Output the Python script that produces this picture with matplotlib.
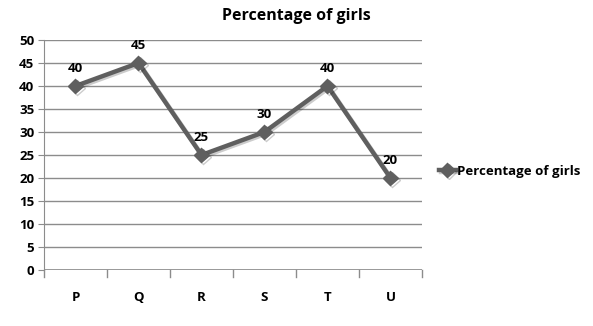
import matplotlib.pyplot as plt
import matplotlib.patheffects as pe

categorias = ["P", "Q", "R", "S", "T", "U"]
percentual = [40, 45, 25, 30, 40, 20]
ticks_y = list(range(0, 55, 5))

COR_LINHA = "#5f5f5f"
COR_GRADE = "#8c8c8c"
FONTE = "Open Sans"

fig = plt.figure(figsize=(5.93, 3.26), dpi=100, facecolor="white")
ax = fig.add_axes([0.0742, 0.1718, 0.6374, 0.7055])

x = list(range(len(categorias)))
sombra = [pe.SimpleLineShadow(offset=(1.2, -1.2), alpha=0.2), pe.Normal()]
ax.plot(x, percentual, color=COR_LINHA, lw=3.2, marker="D", ms=7.5,
        markerfacecolor=COR_LINHA, markeredgecolor=COR_LINHA,
        label="Percentage of girls", path_effects=sombra, zorder=3)

for xi, v in zip(x, percentual):
    ax.annotate(str(v), (xi, v), xytext=(0, 8), textcoords="offset points",
                ha="center", va="bottom", fontsize=9.5, fontweight="bold",
                family=FONTE)

ax.set_xlim(-0.5, len(categorias) - 0.5)
ax.set_ylim(0, 50)
ax.set_yticks(ticks_y)
ax.set_yticklabels([str(t) for t in ticks_y], fontsize=9.5, fontweight="bold",
                   family=FONTE)
ax.set_xticks(x)
ax.set_xticklabels(categorias, fontsize=9.5, fontweight="bold", family=FONTE)
ax.tick_params(axis="x", length=0, pad=15)
ax.tick_params(axis="y", length=4, color=COR_GRADE, pad=3)

# marcas entre as categorias no eixo x
for b in [i - 0.5 for i in range(len(categorias) + 1)]:
    ax.plot([b, b], [0, -1.6], color=COR_GRADE, lw=1, clip_on=False)

ax.grid(axis="y", color=COR_GRADE, lw=1)
ax.set_axisbelow(True)
for lado in ["top", "right", "bottom"]:
    ax.spines[lado].set_visible(False)
ax.spines["left"].set_color(COR_GRADE)
ax.axhline(0, color=COR_GRADE, lw=1.2)

fig.text(0.5, 0.952, "Percentage of girls", ha="center", va="center",
         fontsize=11.5, fontweight="bold", family=FONTE)

leg = fig.legend(loc="center left", bbox_to_anchor=(0.72, 0.475), frameon=False,
                 prop={"family": FONTE, "weight": "bold", "size": 9.5},
                 handlelength=1.3, handletextpad=0.05)

fig.savefig("out.png", dpi=100, facecolor="white")
